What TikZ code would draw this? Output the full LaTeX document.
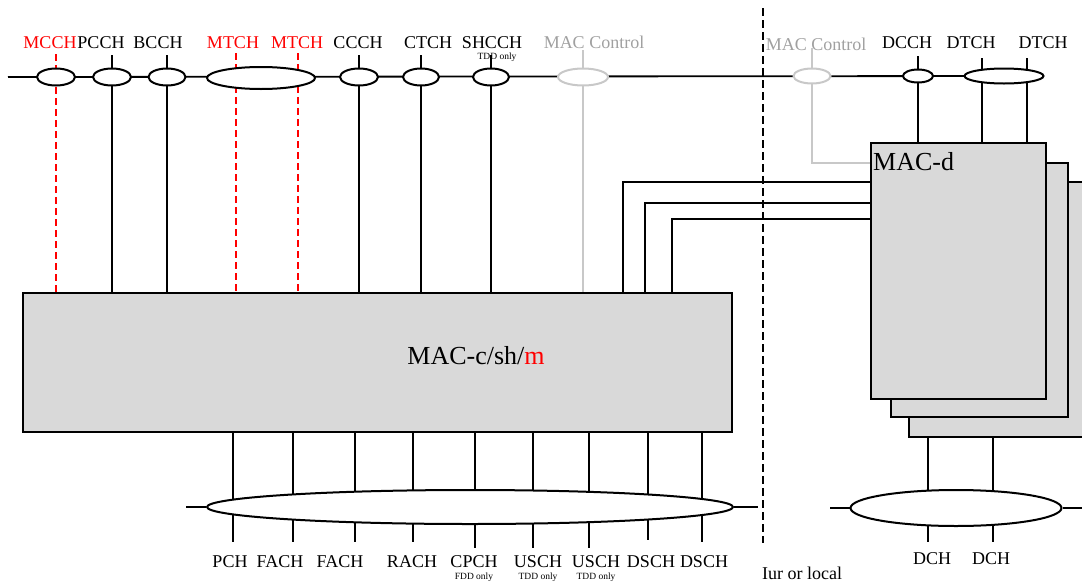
\documentclass[tikz,border=0pt]{standalone}
\usepackage{fontspec}
\setmainfont{Liberation Serif}
\usetikzlibrary{shapes.geometric, positioning, calc}
\definecolor{ChanRed}{HTML}{FF0000}
\definecolor{CtrlGray}{HTML}{A0A0A0}
\definecolor{CtrlLine}{HTML}{C8C8C8}
\definecolor{BoxGray}{HTML}{D9D9D9}
\pgfdeclarelayer{back}
\pgfsetlayers{back,main}

\begin{document}
\begin{tikzpicture}[x=1pt, y=-1pt,
  chan/.style={draw, ellipse, fill=white, line width=2pt, inner sep=0pt},
  ctrlchan/.style={chan, draw=CtrlLine},
  wire/.style={line width=1.8pt},
  ctrl/.style={draw=CtrlLine, line width=1.8pt},
  mwire/.style={ChanRed, line width=1.8pt, dash pattern=on 7pt off 4pt},
  block/.style={draw, fill=BoxGray, line width=2pt, inner sep=0pt},
  lbl/.style={font=\fontsize{18}{20}\selectfont, inner sep=0pt},
  big/.style={font=\fontsize{26}{28}\selectfont, inner sep=0pt},
  note/.style={font=\fontsize{9.5}{10}\selectfont, inner sep=0pt, anchor=base}
]
\useasboundingbox (0,0) rectangle (1082,584);

% MAC entities
\node[block, minimum width=709pt, minimum height=139pt] (macc) at (377.5,362.5) {};
\node[big] (macclbl) at (476,356) {MAC-c/sh/\textcolor{ChanRed}{m}};
\node[block, minimum width=191pt, minimum height=255pt] (macd3) at (1004.5,309.5) {};
\node[block, minimum width=177pt, minimum height=254pt] (macd2) at (979.5,290) {};
\node[block, minimum width=175pt, minimum height=256pt] (macd) at (958.5,271) {};
\node[big, anchor=base west] (macdlbl) at (873,170) {MAC-d};

% Logical channels
\coordinate (busL) at (8,77);
\node[chan, minimum width=38pt, minimum height=17pt] (mcch) at (56,77) {};
\node[chan, minimum width=38pt, minimum height=17pt] (pcch) at (112,77) {};
\node[chan, minimum width=37pt, minimum height=17pt] (bcch) at (167,77) {};
\node[chan, minimum width=108pt, minimum height=22pt] (mtch) at (261,78) {};
\node[chan, minimum width=38pt, minimum height=17pt] (ccch) at (359,77) {};
\node[chan, minimum width=36pt, minimum height=17pt] (ctch) at (421,77) {};
\node[chan, minimum width=36pt, minimum height=17pt] (shcch) at (491,77) {};
\node[ctrlchan, minimum width=50pt, minimum height=17pt] (ctrlA) at (583,77) {};
\node[ctrlchan, minimum width=37pt, minimum height=15pt] (ctrlB) at (812,76) {};
\node[chan, minimum width=30pt, minimum height=13pt] (dcch) at (918,76) {};
\node[chan, minimum width=79pt, minimum height=15pt] (dtch) at (1004,76) {};

% Transport channels
\node[chan, minimum width=526pt, minimum height=34pt] (trans) at (470,507) {};
\node[chan, minimum width=211pt, minimum height=36pt] (dchbus) at (956,508) {};

% Labels above
\foreach \x/\t/\c [count=\i] in {50/MCCH/ChanRed, 101/PCCH/black, 158/BCCH/black,
  233/MTCH/ChanRed, 297/MTCH/ChanRed, 358/CCCH/black, 428/CTCH/black, 492/SHCCH/black,
  907/DCCH/black, 971/DTCH/black, 1043/DTCH/black}
  \node[lbl, text=\c] (top\i) at (\x,43) {\t};
\node[lbl, text=CtrlGray] (ctrlAlbl) at (594,42) {MAC Control};
\node[lbl, text=CtrlGray] (ctrlBlbl) at (816,44) {MAC Control};
\node[note] (shnote) at (497,59) {TDD only};

% Labels below
\foreach \x/\t [count=\i] in {230/PCH, 280/FACH, 340/FACH, 412/RACH, 474/CPCH,
  538/USCH, 596/USCH, 651/DSCH, 704/DSCH}
  \node[lbl] (bot\i) at (\x,562) {\t};
\foreach \x/\t [count=\i] in {474/FDD only, 538/TDD only, 596/TDD only}
  \node[note] (botnote\i) at (\x,579) {\t};
\foreach \x [count=\i] in {932, 991}
  \node[lbl] (dch\i) at (\x,559) {DCH};
\node[lbl, anchor=base west] (iur) at (762,579) {Iur or local};

% Iur boundary
\coordinate (iurT) at (763,8);
\coordinate (iurB) at (763,543);
\draw[line width=2.2pt, dash pattern=on 8pt off 4pt] (iurT) -- (iurB);

\begin{pgfonlayer}{back}
% Channel bus
\draw[wire] (busL) -- (dtch.center);
% Common channels to MAC-c/sh/m
\foreach \n in {pcch, bcch, ccch, ctch, shcch}
  \draw[wire] (\n.center |- 0,55) -- (\n.center |- macc.north);
\draw[mwire] (mcch.center |- 0,54) -- (mcch.center |- macc.north);
\foreach \x in {236, 298}
  \draw[mwire] (\x,53) -- (\x,0 |- macc.north);
\draw[ctrl] (ctrlA.center |- 0,50) -- (ctrlA.center |- macc.north);
% Dedicated channels to MAC-d
\draw[ctrl] (ctrlB.center |- 0,48) |- (macd.west |- 0,163);
\draw[wire] (dcch.center |- 0,56) -- (dcch.center |- macd.north);
\foreach \x in {982, 1027}
  \draw[wire] (\x,58) -- (\x,0 |- macd.north);
% MAC-c/sh/m to MAC-d
\foreach \x/\y in {623/182, 645/203, 672/219}
  \draw[wire] (\x,0 |- macc.north) |- (macd.west |- 0,\y);
% Transport channels
\foreach \x/\e in {233/542, 293/542, 355/542, 413/542, 475/548, 533/548,
  589/548, 648/540, 702/542}
  \draw[wire] (\x,0 |- macc.south) -- (\x,\e);
\foreach \x in {928, 993}
  \draw[wire] (\x,0 |- macd3.south) -- (\x,542);
\draw[wire] (trans.west) -- ++(-20,0);
\draw[wire] (trans.east) -- ++(24,0);
\draw[wire] (dchbus.west) -- ++(-20,0);
\draw[wire] (dchbus.east) -- ++(22,0);
\end{pgfonlayer}
\end{tikzpicture}
\end{document}
